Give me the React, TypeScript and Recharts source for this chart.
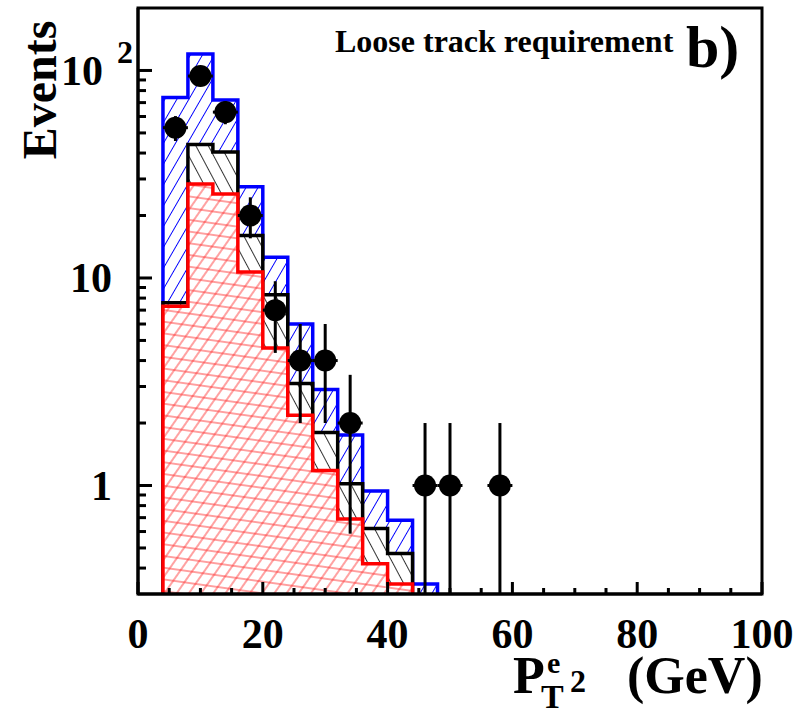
import { ComposedChart, Area, Scatter, ErrorBar, XAxis, YAxis, ReferenceArea } from 'recharts';

// 4 GeV bins, left edges
const binEdges = [4, 8, 12, 16, 20, 24, 28, 32, 36, 40, 44];
const BIN_WIDTH = 4;

// stacked background expectations (cumulative per bin)
const totalBkg = [74, 120, 72, 27.5, 12.6, 6.0, 2.9, 1.75, 0.94, 0.68, 0.335];
const middleBkg = [7.6, 44, 40.5, 16, 8.3, 3.1, 1.8, 1.02, 0.62, 0.47, null];
const lowerBkg = [7.3, 28.4, 25.4, 10.7, 4.6, 2.18, 1.18, 0.69, 0.42, 0.335, null];

// observed events
const dataX = [6, 10, 14, 18, 22, 26, 30, 34, 46, 50, 58];
const dataN = [53, 94, 63, 20, 7, 4, 4, 2, 1, 1, 1];

const xTicks = [0, 5, 10, 15, 20, 25, 30, 35, 40, 45, 50, 55, 60, 65, 70, 75, 80, 85, 90, 95, 100];
const yTicks = [0.4, 0.5, 0.6, 0.7, 0.8, 0.9, 1, 2, 3, 4, 5, 6, 7, 8, 9, 10, 20, 30, 40, 50, 60, 70, 80, 90, 100];
const yMajor = [1, 10, 100];

const Y_MIN = 0.3;
const Y_MAX = 200;
const FLOOR = 0.2; // below the visible range, used to close the histograms

const FONT = "'Liberation Serif', 'Times New Roman', serif";

const histRows = [
  { x: binEdges[0], blue: FLOOR, black: FLOOR, red: FLOOR },
  ...binEdges.map((x, i) => ({
    x,
    blue: totalBkg[i] ?? FLOOR,
    black: middleBkg[i] ?? FLOOR,
    red: lowerBkg[i] ?? FLOOR,
  })),
  { x: binEdges[binEdges.length - 1] + BIN_WIDTH, blue: FLOOR, black: FLOOR, red: FLOOR },
];

// Poisson errors; the lower arm stops at the bottom of the frame
const points = dataX.map((x, i) => {
  const n = dataN[i];
  const e = Math.sqrt(n);
  return { x, n, ex: BIN_WIDTH / 2, ey: [Math.min(e, n - Y_MIN), e] };
});

const XTick = (props: any) => {
  const { x, y, payload } = props;
  const v = payload.value;
  const major = v % 20 === 0;
  return (
    <g>
      <line x1={x} y1={y} x2={x} y2={y - (major ? 12 : 6)} stroke="#000" strokeWidth={3} />
      {major && (
        <text x={x} y={y + 54} textAnchor="middle" fontFamily={FONT} fontWeight={700} fontSize={42} fill="#000">
          {v}
        </text>
      )}
    </g>
  );
};

const YTick = (props: any) => {
  const { x, y, payload } = props;
  const v = payload.value;
  const major = yMajor.includes(v);
  return (
    <g>
      <line x1={x} y1={y} x2={x + (major ? 14 : 8)} y2={y} stroke="#000" strokeWidth={3} />
      {major && v === 100 && (
        <>
          <text x={x - 35} y={y} dy="0.34em" textAnchor="end" fontFamily={FONT} fontWeight={700} fontSize={42} fill="#000">
            10
          </text>
          <text x={x - 21} y={y - 18} dy="0.34em" textAnchor="start" fontFamily={FONT} fontWeight={700} fontSize={32} fill="#000">
            2
          </text>
        </>
      )}
      {major && v !== 100 && (
        <text x={x - 26} y={y} dy="0.34em" textAnchor="end" fontFamily={FONT} fontWeight={700} fontSize={42} fill="#000">
          {v}
        </text>
      )}
    </g>
  );
};

const DataDot = (props: any) => <circle cx={props.cx} cy={props.cy} r={11} fill="#000" />;

export default function App() {
  return (
    <div style={{ position: 'absolute', left: 0, top: 0, background: '#fff' }}>
      <ComposedChart
        width={795}
        height={709}
        data={histRows}
        margin={{ top: 8, right: 33, bottom: 0, left: 0 }}
      >
        <defs>
          <pattern id="hatchBlue" patternUnits="userSpaceOnUse" width={10.4} height={10.4} patternTransform="rotate(30)">
            <rect width={10.4} height={10.4} fill="#fff" />
            <line x1={5.2} y1={0} x2={5.2} y2={10.4} stroke="#0000ff" strokeWidth={1} />
          </pattern>
          <pattern id="hatchBlack" patternUnits="userSpaceOnUse" width={11} height={11} patternTransform="rotate(-28)">
            <rect width={11} height={11} fill="#fff" />
            <line x1={5.5} y1={0} x2={5.5} y2={11} stroke="#000" strokeWidth={0.8} />
          </pattern>
          <pattern id="hatchRedA" patternUnits="userSpaceOnUse" width={10} height={10} patternTransform="rotate(35)">
            <rect width={10} height={10} fill="#fff" />
            <line x1={5} y1={0} x2={5} y2={10} stroke="#ff3030" strokeWidth={0.9} />
          </pattern>
          <pattern id="hatchRedB" patternUnits="userSpaceOnUse" width={11.6} height={11.6} patternTransform="rotate(8)">
            <line x1={0} y1={5.8} x2={11.6} y2={5.8} stroke="#ff3030" strokeWidth={0.9} />
          </pattern>
        </defs>

        <XAxis
          type="number"
          dataKey="x"
          domain={[0, 100]}
          ticks={xTicks}
          interval={0}
          allowDataOverflow
          height={115}
          tickSize={0}
          tickMargin={0}
          tickLine={false}
          axisLine={{ stroke: '#000', strokeWidth: 3 }}
          tick={<XTick />}
        />
        <YAxis
          type="number"
          scale="log"
          domain={[Y_MIN, Y_MAX]}
          ticks={yTicks}
          interval={0}
          allowDataOverflow
          width={138}
          tickSize={0}
          tickMargin={0}
          tickLine={false}
          axisLine={{ stroke: '#000', strokeWidth: 3 }}
          tick={<YTick />}
        />

        <Area
          type="stepAfter"
          dataKey="blue"
          baseValue={FLOOR}
          stroke="#0000ff"
          strokeWidth={3.5}
          fill="url(#hatchBlue)"
          fillOpacity={1}
          dot={false}
          activeDot={false}
          isAnimationActive={false}
        />
        <Area
          type="stepAfter"
          dataKey="black"
          baseValue={FLOOR}
          stroke="#000"
          strokeWidth={3.5}
          fill="url(#hatchBlack)"
          fillOpacity={1}
          dot={false}
          activeDot={false}
          isAnimationActive={false}
        />
        <Area
          type="stepAfter"
          dataKey="red"
          baseValue={FLOOR}
          stroke="none"
          fill="url(#hatchRedA)"
          fillOpacity={1}
          dot={false}
          activeDot={false}
          isAnimationActive={false}
        />
        <Area
          type="stepAfter"
          dataKey="red"
          baseValue={FLOOR}
          stroke="#ff0000"
          strokeWidth={3.5}
          fill="url(#hatchRedB)"
          fillOpacity={1}
          dot={false}
          activeDot={false}
          isAnimationActive={false}
        />

        <Scatter data={points} dataKey="n" fill="#000" shape={<DataDot />} isAnimationActive={false}>
          <ErrorBar dataKey="ey" direction="y" width={0} stroke="#000" strokeWidth={3} />
          <ErrorBar dataKey="ex" direction="x" width={0} stroke="#000" strokeWidth={3} />
        </Scatter>

        <ReferenceArea x1={0} x2={100} y1={Y_MIN} y2={Y_MAX} fill="none" stroke="#000" strokeWidth={3} ifOverflow="visible" />

        <text x={335} y={52} fontFamily={FONT} fontWeight={700} fontSize={32} fill="#000">
          Loose track requirement
        </text>
        <text x={686} y={67} fontFamily={FONT} fontWeight={700} fontSize={60} fill="#000">
          b)
        </text>
        <text
          x={56}
          y={90}
          transform="rotate(-90, 56, 90)"
          textAnchor="middle"
          fontFamily={FONT}
          fontWeight={700}
          fontSize={48}
          fill="#000"
        >
          Events
        </text>
        <text fontFamily={FONT} fontWeight={700} fill="#000">
          <tspan x={513} y={693} fontSize={52}>P</tspan>
          <tspan x={541} y={708} fontSize={34}>T</tspan>
          <tspan x={547} y={673} fontSize={30}>e</tspan>
          <tspan x={570} y={692} fontSize={32}>2</tspan>
          <tspan x={627} y={693} fontSize={52}>(GeV)</tspan>
        </text>
      </ComposedChart>
    </div>
  );
}
